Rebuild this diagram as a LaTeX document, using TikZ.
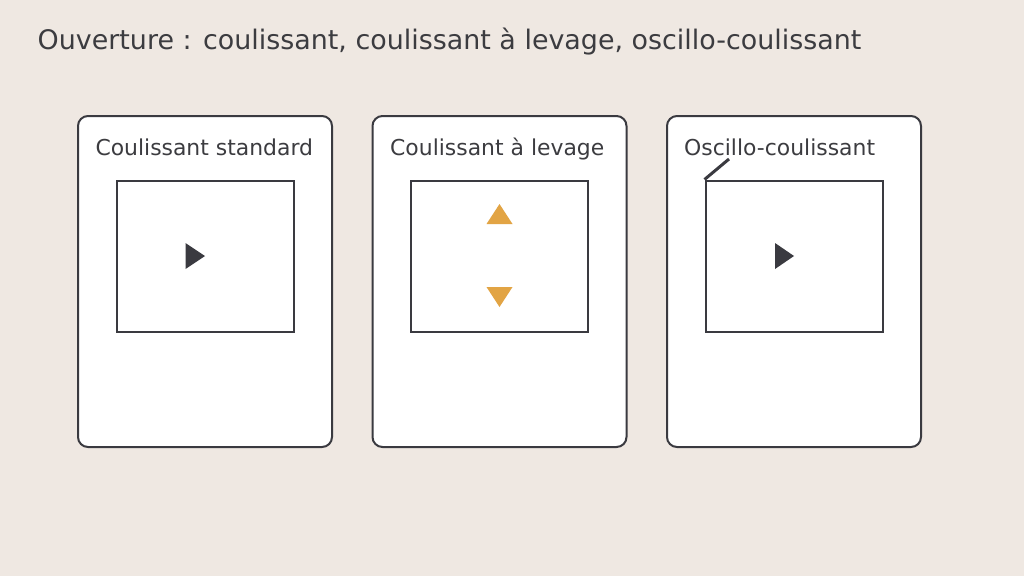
\documentclass[tikz,border=0pt]{standalone}
\usepackage{fontspec}
\setmainfont{DejaVu Sans}
\definecolor{bg}{RGB}{239,232,226}
\definecolor{ink}{RGB}{58,58,64}
\definecolor{txt}{RGB}{60,60,64}
\definecolor{accent}{RGB}{226,164,68}
\tikzset{
  card/.style={draw=ink, line width=2pt, fill=white, rounded corners=10pt, minimum width=254pt, minimum height=331pt, inner sep=0pt, anchor=north west},
  pane/.style={draw=ink, line width=2pt, fill=white, minimum width=177pt, minimum height=151pt, inner sep=0pt, anchor=north west},
  cardlabel/.style={anchor=base west, inner sep=0pt, text=txt, font=\fontsize{21.9}{26}\selectfont},
  title/.style={anchor=base west, inner sep=0pt, text=txt, font=\fontsize{26.9}{32}\selectfont},
  slidemark/.style={fill=ink},
  liftmark/.style={fill=accent},
}
\begin{document}
\begin{tikzpicture}[x=1pt,y=-1pt]
\fill[bg] (1,1) rectangle (1025,577);
\useasboundingbox (1,1) rectangle (1025,577);
\node[title] (ttl) at (38.5,50) {Ouverture : coulissant, coulissant à levage, oscillo-coulissant};
% cards
\node[card] (c1) at (78,116) {};
\node[card] (c2) at (372.5,116) {};
\node[card] (c3) at (667,116) {};
\node[cardlabel] (l1) at (96.3,156) {Coulissant standard};
\node[cardlabel] (l2) at (391,156) {Coulissant à levage};
\node[cardlabel] (l3) at (685,156) {Oscillo-coulissant};
% panes
\node[pane] (p1) at (116.5,180.5) {};
\node[pane] (p2) at (411,180.5) {};
\node[pane] (p3) at (705.5,180.5) {};
% marks
\fill[slidemark] ([shift={(-19.5,-13)}]p1.center) -- ([shift={(-19.5,13)}]p1.center) -- ([shift={(0,0)}]p1.center) -- cycle;
\fill[slidemark] ([shift={(-19,-13)}]p3.center) -- ([shift={(-19,13)}]p3.center) -- ([shift={(0,0)}]p3.center) -- cycle;
\fill[liftmark] ([shift={(-13,-32)}]p2.center) -- ([shift={(13,-32)}]p2.center) -- ([shift={(0,-52)}]p2.center) -- cycle;
\fill[liftmark] ([shift={(-13,31)}]p2.center) -- ([shift={(13,31)}]p2.center) -- ([shift={(0,51)}]p2.center) -- cycle;
\coordinate (tilt) at (730,160);
\draw[ink, line width=3pt] (p3.north west) -- (tilt);
\end{tikzpicture}
\end{document}
